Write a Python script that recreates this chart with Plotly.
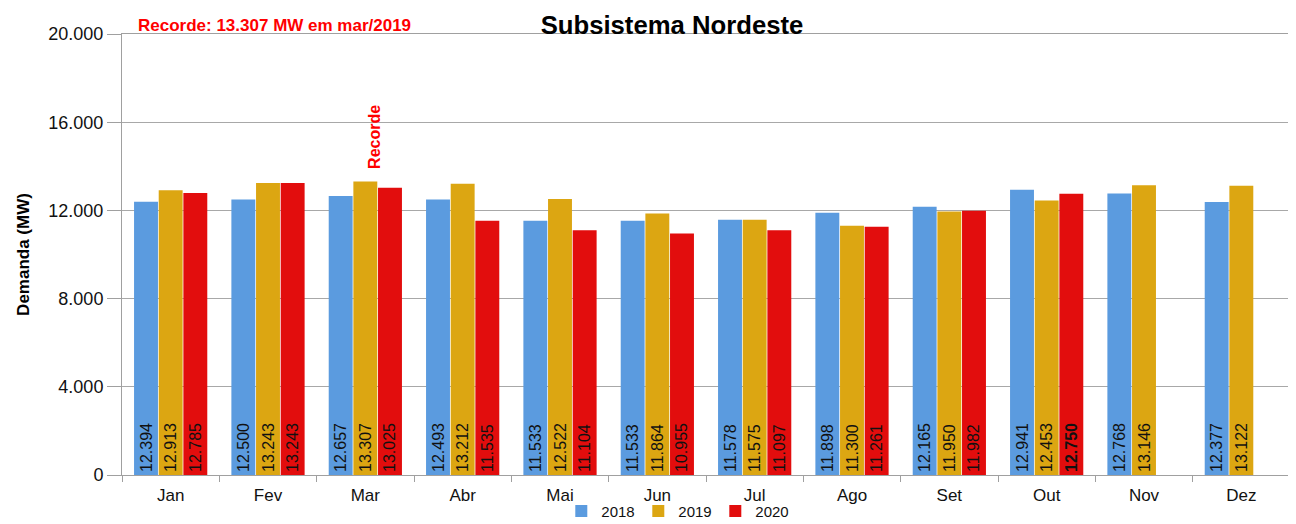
import plotly.graph_objects as go

months = ["Jan", "Fev", "Mar", "Abr", "Mai", "Jun", "Jul", "Ago", "Set", "Out", "Nov", "Dez"]
d2018 = [12394, 12500, 12657, 12493, 11533, 11533, 11578, 11898, 12165, 12941, 12768, 12377]
d2019 = [12913, 13243, 13307, 13212, 12522, 11864, 11575, 11300, 11950, 12453, 13146, 13122]
d2020 = [12785, 13243, 13025, 11535, 11104, 10955, 11097, 11261, 11982, 12750, None, None]
y_ticks = [0, 4000, 8000, 12000, 16000, 20000]
y_tick_labels = ["0", "4.000", "8.000", "12.000", "16.000", "20.000"]
record_month = "Mar"
record_value = 13307

def fmt(v):
    return "" if v is None else f"{v:,}".replace(",", ".")

FONT = "Liberation Sans Narrow, Arial Narrow, Liberation Sans, Arial, sans-serif"

series = [
    ("2018", d2018, "#5B9BDF"),
    ("2019", d2019, "#DCA612"),
    ("2020", d2020, "#E20D0D"),
]

fig = go.Figure()
for name, vals, col in series:
    texts = [fmt(v) for v in vals]
    if name == "2020":
        texts = [f"<b>{t}</b>" if m == "Out" else t for t, m in zip(texts, months)]
    fig.add_trace(go.Bar(
        name=name, x=months, y=vals, text=texts,
        marker=dict(color=col, line=dict(width=0)),
        textposition="inside", insidetextanchor="start", textangle=-90,
        textfont=dict(family=FONT, size=16, color="#111111"),
        constraintext="none",
        cliponaxis=False,
    ))

# page body has an 8px margin, so the figure is sized/offset to compensate
fig.update_layout(
    width=1288, height=516,
    margin=dict(l=114, r=6, t=26, b=49, autoexpand=False),
    paper_bgcolor="white", plot_bgcolor="white",
    barmode="group", bargap=0.24, bargroupgap=0.03,
    separators=",.",
    font=dict(family=FONT, color="#111111"),
    showlegend=True,
    legend=dict(orientation="h", x=0.475, xanchor="center", y=-0.045, yref="paper",
                yanchor="top", bgcolor="rgba(0,0,0,0)",
                font=dict(family=FONT, size=15, color="#111111"),
                itemwidth=30, entrywidth=32, traceorder="normal"),
    title=dict(text="<b>Subsistema Nordeste</b>", x=0.5155, xanchor="center",
               y=0.967, yref="container", yanchor="middle", automargin=False,
               font=dict(family="Liberation Sans, Arial, sans-serif", size=25.7, color="#000000")),
)

fig.update_xaxes(
    showline=True, linecolor="#A0A0A0", linewidth=1, mirror=True,
    ticks="outside", ticklen=6, tickcolor="#A0A0A0", tickson="boundaries",
    tickfont=dict(family=FONT, size=17, color="#111111"),
    ticklabelstandoff=5,
    showgrid=False, automargin=False,
)
fig.update_yaxes(
    range=[0, 20000], tickvals=y_ticks, ticktext=y_tick_labels,
    showline=True, linecolor="#A0A0A0", linewidth=1, mirror=True,
    showgrid=True, gridcolor="#A8A8A8", gridwidth=1,
    ticks="outside", ticklen=14, tickcolor="#A0A0A0",
    tickfont=dict(family=FONT, size=18, color="#111111"),
    title=dict(text="<b>Demanda (MW)</b>", standoff=14,
               font=dict(family="Liberation Sans, Arial, sans-serif", size=17, color="#000000")),
    zeroline=False, automargin=False,
)

fig.add_annotation(
    text="<b>Recorde: 13.307 MW em mar/2019</b>",
    xref="paper", yref="paper", x=0.012, y=1.0, xanchor="left", yanchor="bottom",
    yshift=-3, showarrow=False, font=dict(family=FONT, size=17, color="#FF0000"),
)
fig.add_annotation(
    text="<b>Recorde</b>", x=record_month, y=record_value, xanchor="center", yanchor="bottom",
    yshift=11, xshift=9, textangle=-90, showarrow=False,
    font=dict(family=FONT, size=16, color="#FF0000"),
)

fig.write_html("out.html")
